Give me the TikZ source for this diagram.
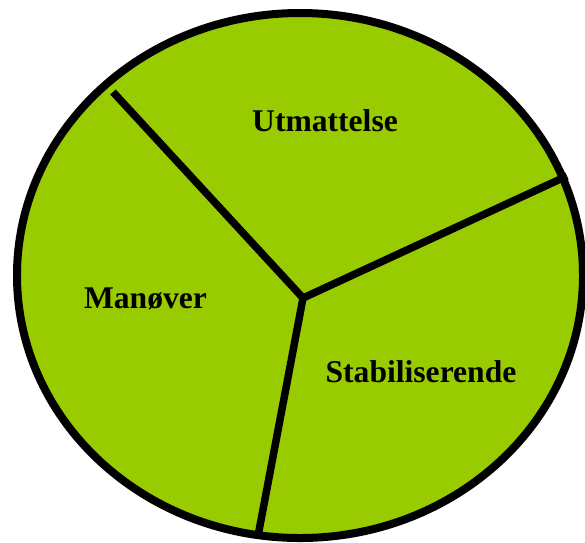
\documentclass[tikz,border=0pt]{standalone}
\usetikzlibrary{shapes.geometric}
\usepackage{fontspec}
\setmainfont{Liberation Serif}
\definecolor{piegreen}{HTML}{99CC00}
\begin{document}
\begin{tikzpicture}[x=1pt,y=-1pt,
  lbl/.style={font=\fontsize{31.6}{36}\selectfont\bfseries, anchor=base, inner sep=0pt},
  spoke/.style={line width=7.5pt}]
\useasboundingbox (0,0) rectangle (585,542);
\node[draw=black, line width=8pt, fill=piegreen, ellipse, minimum width=566pt, minimum height=525pt, inner sep=0pt, outer sep=0pt] (pie) at (300,275.5) {};
\coordinate (c) at (303,298);
\coordinate (a) at (113,92);
\coordinate (b) at (567,176);
\coordinate (d) at (258,536);
\draw[spoke] (c) -- (a);
\draw[spoke] (c) -- (b);
\draw[spoke] (c) -- (d);
\node[lbl] (u) at (325,131.5) {Utmattelse};
\node[lbl] (m) at (145.5,308) {Manøver};
\node[lbl] (s) at (421,382) {Stabiliserende};
\end{tikzpicture}
\end{document}
